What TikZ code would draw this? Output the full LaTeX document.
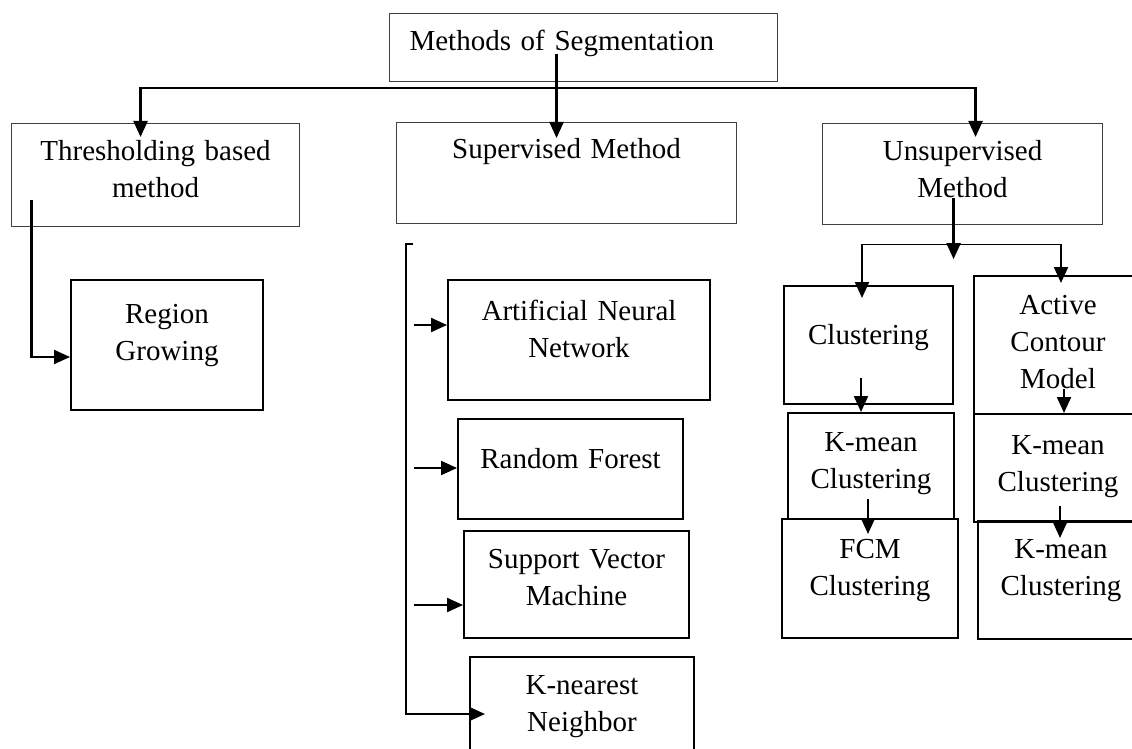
\documentclass[tikz,border=0pt]{standalone}
\usepackage{fontspec}
\setmainfont{Liberation Serif}
\usepackage{tikz}
\usetikzlibrary{arrows.meta}

\begin{document}
\begin{tikzpicture}[x=1pt,y=-1pt,
  every node/.style={font=\fontsize{29pt}{37pt}\selectfont, anchor=north west,
    inner xsep=0pt, inner ysep=0pt, align=center, text height=38pt},
  headbox/.style={draw=black!75, line width=1.1pt},
  leafbox/.style={draw, line width=2pt},
  arr/.style={-{Triangle[length=16pt,width=14pt]}, line width=2.2pt}]

\useasboundingbox (0,0) rectangle (1132,749);
\clip (0,0) rectangle (1132,749);

% first level
\node[headbox, align=left, inner xsep=20pt, text width=348pt, text height=37pt, text depth=31pt] (title) at (389,13) {Methods of Segmentation};
\node[headbox, text width=288pt, text height=37pt, text depth=66pt] (thresh) at (11,123) {Thresholding based\\method};
\node[headbox, text width=340pt, text height=36pt, text depth=65pt] (sup) at (396,122) {Supervised Method};
\node[headbox, text width=280pt, text height=37pt, text depth=64pt] (unsup) at (822,123) {Unsupervised\\Method};

% thresholding
\node[leafbox, text width=192pt, text height=43pt, text depth=87pt] (region) at (70,279) {Region\\Growing};

% supervised
\node[leafbox, text width=262pt, text height=40pt, text depth=80pt] (ann) at (447,279) {Artificial Neural\\Network};
\node[leafbox, text width=225pt, text height=49pt, text depth=51pt] (rf) at (457,418) {Random Forest};
\node[leafbox, text width=225pt, text height=37pt, text depth=70pt] (svm) at (463,530) {Support Vector\\Machine};
\node[leafbox, text width=224pt, text height=37pt, text depth=77pt] (knn) at (469,656) {K-nearest\\Neighbor};

% unsupervised
\node[leafbox, text width=169pt, text height=58pt, text depth=60pt] (clus) at (783,285) {Clustering};
\node[leafbox, text width=166pt, text depth=68pt] (kmL) at (787,412) {K-mean\\Clustering};
\node[leafbox, text width=176pt, text height=39pt, text depth=80pt] (fcm) at (781,518) {FCM\\Clustering};
\node[leafbox, text width=168pt, text depth=100pt] (acm) at (973,275) {Active\\Contour\\Model};
\node[leafbox, text width=168pt, text height=40pt, text depth=68pt] (kmR) at (973,413) {K-mean\\Clustering};
\node[leafbox, text width=166pt, text height=37pt, text depth=81pt] (kmR2) at (977,520) {K-mean\\Clustering};

% top arrows
\coordinate (bus) at ([xshift=-27pt,yshift=-6pt]title.south);
\draw[arr] ([xshift=-27pt,yshift=28pt]title.south) -- ([xshift=-10pt,yshift=-16pt]sup.north);
\draw[arr] (bus) -| ([xshift=-15pt,yshift=-14pt]thresh.north);
\draw[arr] (bus) -| ([xshift=13pt,yshift=-14pt]unsup.north);

\draw[arr] ([xshift=-124pt,yshift=27pt]thresh.south) |- ([yshift=-12pt]region.west);

% supervised rail
\coordinate (rail) at (406,244);
\draw[arr] ([xshift=7pt]rail) -- (rail) |- ([xshift=16pt]knn.west);
\foreach \n/\dx/\dy in {ann/-33/15, rf/-43/1, svm/-49/-20.5}
  \draw[arr] ([xshift=\dx pt,yshift=\dy pt]\n.west) -- ([yshift=\dy pt]\n.west);

% unsupervised fork
\coordinate (fork) at ([xshift=-9pt,yshift=-19pt]unsup.south);
\coordinate (cl) at ([xshift=-6.5pt,yshift=-13pt]clus.north);
\coordinate (cr) at ([xshift=3pt,yshift=-8pt]acm.north);
\draw[line width=1.2pt] (cl |- fork) -- (cr |- fork);
\draw[arr] (cl |- fork) -- (cl);
\draw[arr] (cr |- fork) -- (cr);
\draw[arr] ([xshift=-9pt,yshift=27pt]unsup.south) -- ([xshift=-9pt,yshift=-34pt]unsup.south);

\draw[arr] ([xshift=-7.5pt,yshift=27pt]clus.south) -- ([xshift=-10pt]kmL.north);
\draw[arr] ([xshift=-3pt,yshift=21pt]kmL.south) -- ([xshift=-2pt,yshift=-16pt]fcm.north);
\draw[arr] ([xshift=6pt,yshift=26pt]acm.south) -- ([xshift=6pt]kmR.north);
\draw[arr] ([xshift=2pt,yshift=17pt]kmR.south) -- ([xshift=-1pt,yshift=-18pt]kmR2.north);
% \draw[help lines] (0,0) grid[step=50] (1132,749);
\end{tikzpicture}
\end{document}
